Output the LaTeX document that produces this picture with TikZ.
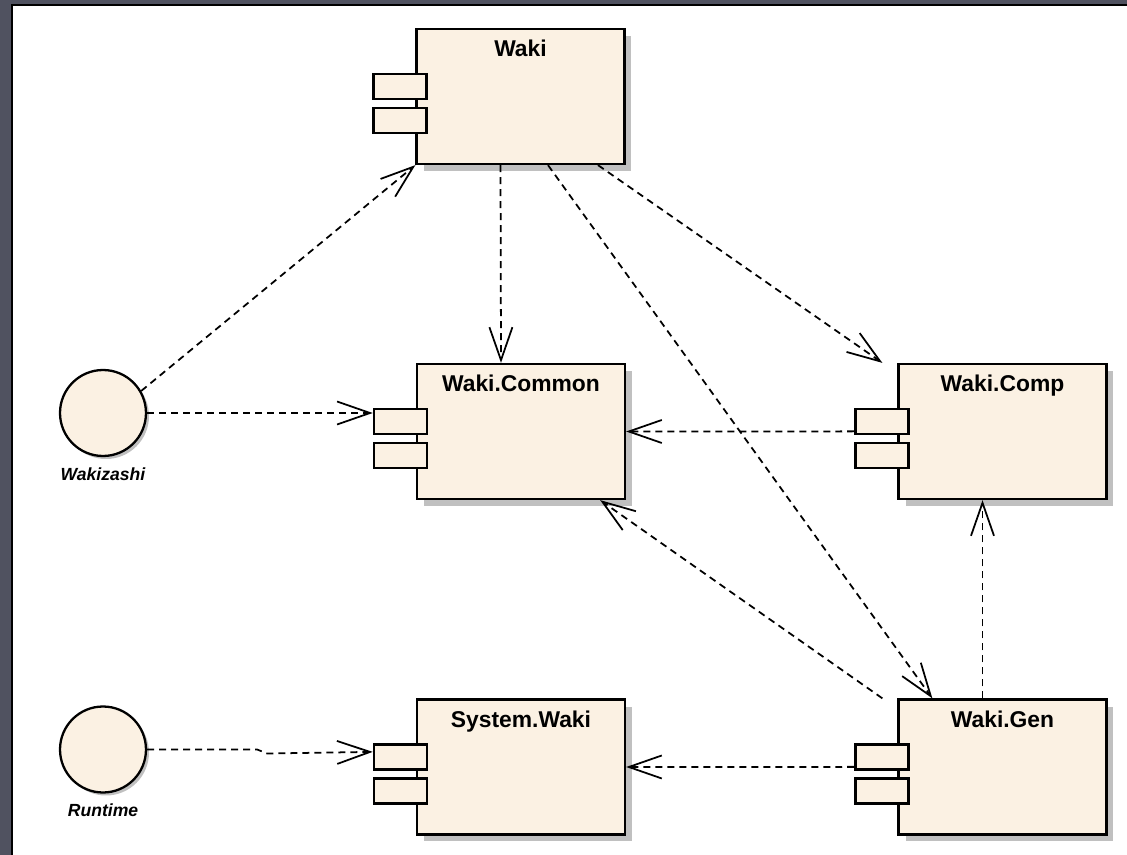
\documentclass[tikz,border=0pt]{standalone}
\usepackage{fontspec}
\setmainfont{Liberation Sans}
\usepackage{tikz}
\usetikzlibrary{arrows.meta, positioning, calc, shadows}

\definecolor{compfill}{RGB}{251,241,227}
\definecolor{shadowgray}{RGB}{192,192,192}
\definecolor{framegray}{RGB}{80,82,96}

\begin{document}
\begin{tikzpicture}[x=0.02cm, y=-0.02cm,
  component/.style={rectangle, draw, line width=1.3pt, fill=compfill, minimum width=4.16cm, minimum height=2.7cm, inner sep=0pt,
    drop shadow={shadow xshift=0.14cm, shadow yshift=-0.14cm, fill=shadowgray, opacity=1}},
  port/.style={rectangle, draw, line width=1.3pt, fill=compfill, minimum width=1.06cm, minimum height=0.5cm, inner sep=0pt},
  iface/.style={circle, draw, line width=1.3pt, fill=compfill, minimum size=1.72cm, inner sep=0pt,
    drop shadow={shadow xshift=0.06cm, shadow yshift=-0.06cm, fill=shadowgray, opacity=1}},
  title/.style={label={[anchor=north, inner sep=0pt, yshift=-0.24cm, font=\bfseries\fontsize{13}{15}\selectfont]90:#1}},
  caption/.style={label={[anchor=north, inner sep=0pt, yshift=-0.2cm, font=\bfseries\itshape\fontsize{10}{12}\selectfont]below:#1}},
  dep/.style={line width=1pt, dash pattern=on 0.14cm off 0.1cm, -{Straight Barb[length=0.66cm, width=0.46cm]}}]
\useasboundingbox (0,0) rectangle (1127,855);
\fill [framegray] (0,0) rectangle (1127,855);
\fill [white] (12,5) rectangle (1127,855);
\draw [line width=0.04cm] (12,855) -- (12,5) -- (1127,5);

\node (waki) [component, title=Waki] at (520.5,96.5) {};
\node (common) [component, title=Waki.Common] at (521,431.5) {};
\node (comp) [component, title=Waki.Comp] at (1002.5,431.5) {};
\node (system) [component, title=System.Waki] at (521,767) {};
\node (gen) [component, title=Waki.Gen] at (1002.5,767) {};
\foreach \c in {waki, common, comp, system, gen} {
  \node (\c-p1) [port] at ($(\c.north west)+(-15.5,58.5)$) {};
  \node (\c-p2) [port] at ($(\c.north west)+(-15.5,92.5)$) {};
}

\node (wakizashi) [iface, caption=Wakizashi] at (103,413) {};
\node (runtime) [iface, caption=Runtime] at (103,749.5) {};

\draw [dep] (wakizashi.30) -- (waki.south west);
\draw [dep] (wakizashi.east) -- (common-p1.west |- wakizashi.east);
\draw [dep] ([xshift=-0.4cm]waki.south) -- ([xshift=-0.4cm]common.north);
\draw [dep] ([xshift=1.55cm]waki.south) -- ([xshift=-0.3cm]comp.north west);
\draw [dep] ([xshift=0.55cm]waki.south) -- ([xshift=0.7cm]gen.north west);
\draw [dep] ([yshift=-0.2cm]comp-p1.west) -- (common.east);
\draw [dep] ([xshift=-0.3cm]gen.north west) -- ([xshift=-0.52cm]common.south east);
\draw [dep] ([xshift=-0.4cm]gen.north) -- ([xshift=-0.4cm]comp.south);
\draw [dep] ([yshift=-0.2cm]gen-p1.west) -- (system.east);
\draw [dep] (runtime.east) -- ++(110,0) -- ++(10,4) -- ([yshift=0.1cm]system-p1.west);
\end{tikzpicture}
\end{document}
